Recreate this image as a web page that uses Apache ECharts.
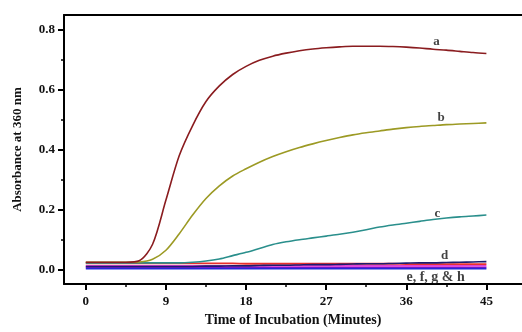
<!DOCTYPE html>
<html>
<head>
<meta charset="utf-8">
<script src="https://cdn.jsdelivr.net/npm/echarts@6/dist/echarts.min.js"></script>
<style>
  html, body { margin: 0; padding: 0; background: #fff; }
  #chart { width: 522px; height: 332px; }
</style>
</head>
<body>
<div id="chart"></div>
<script>
// time of incubation (minutes), shared by every curve
var times = [0, 1.5, 3, 4.5, 6, 7.5, 9, 10.5, 12, 13.5, 15, 16.5, 18, 19.5, 21, 22.5,
    24, 25.5, 27, 28.5, 30, 31.5, 33, 34.5, 36, 37.5, 39, 40.5, 42, 43.5, 45];

var curveA = [0.025, 0.025, 0.025, 0.025, 0.030, 0.085, 0.232, 0.380, 0.480, 0.560, 0.612, 0.650, 0.677, 0.697, 0.711, 0.721,
    0.729, 0.735, 0.739, 0.742, 0.744, 0.744, 0.744, 0.743, 0.741, 0.738, 0.734, 0.731, 0.727, 0.723, 0.720];
var curveB = [0.025, 0.025, 0.025, 0.025, 0.026, 0.035, 0.065, 0.120, 0.182, 0.237, 0.279, 0.312, 0.336, 0.358, 0.377, 0.393,
    0.407, 0.419, 0.430, 0.440, 0.449, 0.456, 0.462, 0.468, 0.473, 0.477, 0.480, 0.483, 0.485, 0.487, 0.489];
var curveC = [0.023, 0.023, 0.023, 0.023, 0.023, 0.023, 0.023, 0.023, 0.025, 0.029, 0.036, 0.047, 0.058, 0.071, 0.084, 0.093,
    0.100, 0.106, 0.112, 0.118, 0.125, 0.133, 0.142, 0.149, 0.155, 0.161, 0.167, 0.172, 0.176, 0.179, 0.182];
var curveD = [0.011, 0.011, 0.011, 0.011, 0.011, 0.011, 0.011, 0.011, 0.011, 0.012, 0.012, 0.013, 0.013, 0.014, 0.015, 0.015,
    0.016, 0.017, 0.017, 0.018, 0.019, 0.020, 0.020, 0.021, 0.022, 0.023, 0.023, 0.024, 0.025, 0.026, 0.027];
var curveE = [0.021, 0.021, 0.021, 0.021, 0.021, 0.021, 0.021, 0.021, 0.021, 0.021, 0.021, 0.021, 0.020, 0.020, 0.020, 0.020,
    0.020, 0.020, 0.020, 0.020, 0.020, 0.020, 0.020, 0.020, 0.019, 0.019, 0.019, 0.019, 0.019, 0.019, 0.019];
var curveF = [0.013, 0.013, 0.013, 0.013, 0.013, 0.013, 0.013, 0.013, 0.013, 0.013, 0.013, 0.013, 0.013, 0.013, 0.013, 0.013,
    0.013, 0.013, 0.013, 0.013, 0.013, 0.013, 0.013, 0.013, 0.013, 0.013, 0.013, 0.013, 0.013, 0.014, 0.014];
var curveG = [0.004, 0.004, 0.004, 0.004, 0.004, 0.004, 0.004, 0.004, 0.004, 0.004, 0.004, 0.004, 0.004, 0.004, 0.004, 0.004,
    0.004, 0.004, 0.004, 0.004, 0.004, 0.004, 0.004, 0.004, 0.004, 0.004, 0.004, 0.004, 0.004, 0.004, 0.004];
var curveH = [0.008, 0.008, 0.008, 0.008, 0.008, 0.008, 0.008, 0.008, 0.008, 0.008, 0.008, 0.008, 0.008, 0.008, 0.008, 0.008,
    0.008, 0.008, 0.008, 0.008, 0.008, 0.008, 0.008, 0.008, 0.008, 0.008, 0.008, 0.008, 0.008, 0.008, 0.008];

var curveNames = ['a', 'b', 'c', 'd', 'e', 'f', 'g', 'h'];
var curveColors = ['#8a1c1f', '#9c9a24', '#2a8f8c', '#1c1c70', '#e8302c', '#e040d8', '#2626d8', '#8a10c8'];

// curve labels, placed in data units
var labelTexts = ['a', 'b', 'c', 'd', 'e, f, g & h'];
var labelX = [39.4, 39.9, 39.5, 40.3, 39.3];
var labelY = [0.759, 0.507, 0.188, 0.047, -0.026];
var labelSizes = [13, 13, 13, 13, 14];

var xMajor = [0, 9, 18, 27, 36, 45];
var xMinor = [4.5, 13.5, 22.5, 31.5, 40.5];
var yMajor = [0, 0.2, 0.4, 0.6, 0.8];
var yMinor = [0.1, 0.3, 0.5, 0.7];

var fontFam = '"Liberation Serif", "Times New Roman", serif';
var xMin = -2.45, xMax = 49.0;
var yMin = -0.0478, yMax = 0.848;

function pairs(ys) {
    return times.map(function (t, i) { return [t, ys[i]]; });
}

var allCurves = [curveA, curveB, curveC, curveD, curveE, curveF, curveG, curveH];
var series = allCurves.map(function (ys, i) {
    return {
        name: curveNames[i],
        type: 'line',
        data: pairs(ys),
        smooth: 0.3,
        showSymbol: false,
        lineStyle: { color: curveColors[i], width: i < 4 ? 1.6 : 1.8 },
        z: 10 - i
    };
});
series.push({
    type: 'scatter',
    symbolSize: 0,
    data: labelTexts.map(function (s, i) {
        return { value: [labelX[i], labelY[i]], name: s, label: { fontSize: labelSizes[i] } };
    }),
    label: {
        show: true,
        position: 'inside',
        formatter: function (p) { return p.name; },
        fontFamily: fontFam,
        fontWeight: 'bold',
        color: '#111'
    },
    z: 20
});

var chart = echarts.init(document.getElementById('chart'));
chart.setOption({
    animation: false,
    backgroundColor: '#fff',
    grid: { left: 64, top: 15, width: 462, height: 281 },
    xAxis: [{
        type: 'value', min: xMin, max: xMax, position: 'bottom',
        axisLine: { show: true, onZero: false, lineStyle: { color: '#000', width: 2 } },
        axisTick: { show: true, customValues: xMajor, length: 6, lineStyle: { color: '#000', width: 2 } },
        axisLabel: {
            customValues: xMajor, margin: 11,
            fontFamily: fontFam, fontWeight: 'bold', fontSize: 13, color: '#111'
        },
        splitLine: { show: false },
        name: 'Time of Incubation (Minutes)',
        nameLocation: 'middle', nameGap: 26,
        nameTextStyle: { fontFamily: fontFam, fontWeight: 'bold', fontSize: 14, color: '#111' }
    }, {
        type: 'value', min: xMin, max: xMax, position: 'bottom',
        axisLine: { show: false, onZero: false },
        axisTick: { show: true, customValues: xMinor, length: 3, lineStyle: { color: '#000', width: 1.5 } },
        axisLabel: { show: false },
        splitLine: { show: false }
    }, {
        type: 'value', min: xMin, max: xMax, position: 'top',
        axisLine: { show: true, onZero: false, lineStyle: { color: '#000', width: 2 } },
        axisTick: { show: false }, axisLabel: { show: false }, splitLine: { show: false }
    }],
    yAxis: [{
        type: 'value', min: yMin, max: yMax, position: 'left',
        axisLine: { show: true, onZero: false, lineStyle: { color: '#000', width: 2 } },
        axisTick: { show: true, customValues: yMajor, length: 6, lineStyle: { color: '#000', width: 2 } },
        axisLabel: {
            customValues: yMajor, margin: 9,
            formatter: function (v) { return v.toFixed(1); },
            fontFamily: fontFam, fontWeight: 'bold', fontSize: 13, color: '#111'
        },
        splitLine: { show: false },
        name: 'Absorbance at 360 nm',
        nameLocation: 'middle', nameGap: 40,
        nameTextStyle: { fontFamily: fontFam, fontWeight: 'bold', fontSize: 13, color: '#111' }
    }, {
        type: 'value', min: yMin, max: yMax, position: 'left',
        axisLine: { show: false, onZero: false },
        axisTick: { show: true, customValues: yMinor, length: 3, lineStyle: { color: '#000', width: 1.5 } },
        axisLabel: { show: false },
        splitLine: { show: false }
    }],
    series: series
});
</script>
</body>
</html>
